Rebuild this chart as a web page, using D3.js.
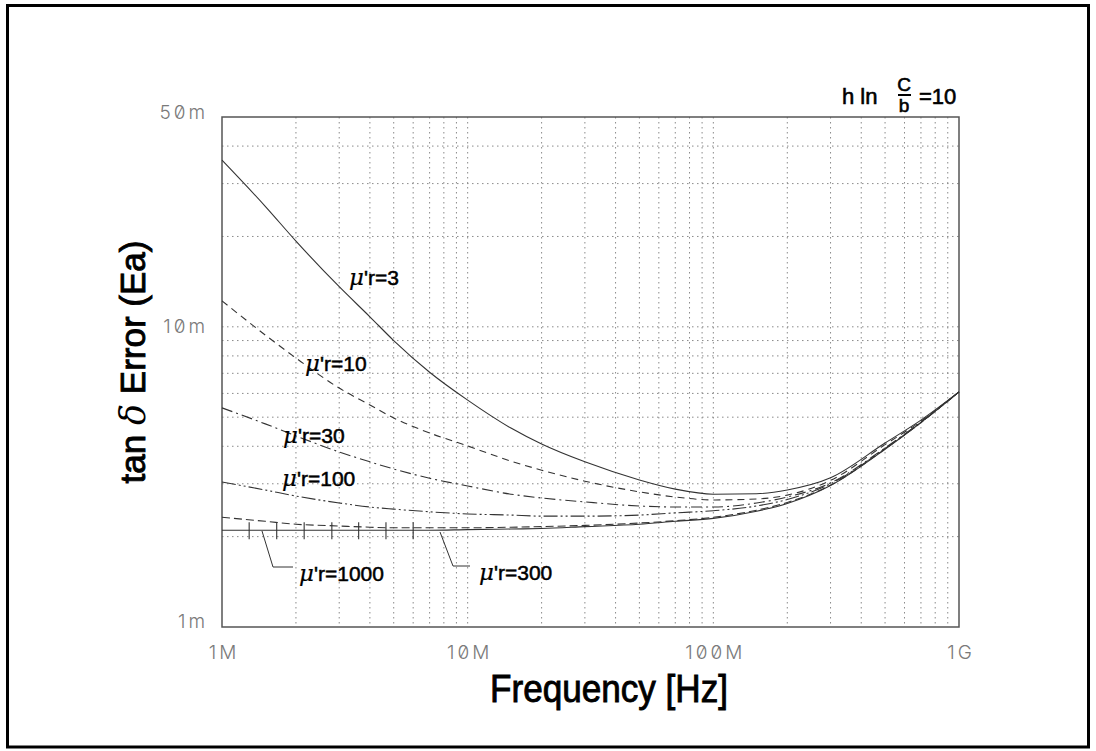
<!DOCTYPE html>
<html><head><meta charset="utf-8">
<script src="https://cdn.jsdelivr.net/npm/d3@7"></script>
<style>
html,body{margin:0;padding:0;background:#fff;}
svg{display:block;}
.tick-lbl{font-family:Inter,"DejaVu Sans",sans-serif;font-weight:300;fill:#7a7a7a;font-size:19px;letter-spacing:3px;font-feature-settings:"zero" 1;}
.clbl{font-family:"Liberation Sans",Arial,sans-serif;font-size:21px;fill:#000;stroke:#000;stroke-width:0.5;}
</style></head>
<body><svg id="c" width="1096" height="751"></svg>
<script>
// ---- data (frequency in MHz, error in units of 1e-3) ----
const freqsMHz = [1,1.5,2,3,4,5,7,10,15,20,30,50,70,100,150,200,300,500,700,1000];
const mu3    = [35.9,25.2,19.3,13.6,10.8,9.0,7.06,5.70,4.60,4.07,3.55,3.09,2.88,2.77,2.78,2.86,3.14,4.10,4.89,6.07];
const mu10   = [12.2,9.39,7.87,6.25,5.49,4.97,4.43,4.01,3.57,3.33,3.06,2.82,2.71,2.65,2.67,2.75,3.08,4.05,4.85,6.07];
const mu30   = [5.37,4.75,4.33,3.83,3.55,3.36,3.13,2.95,2.77,2.69,2.61,2.53,2.51,2.51,2.59,2.71,3.02,3.95,4.82,6.07];
const mu100  = [3.04,2.86,2.73,2.59,2.51,2.47,2.42,2.38,2.36,2.34,2.34,2.36,2.40,2.44,2.53,2.66,3.00,3.93,4.80,6.07];
const mu300  = [2.32,2.25,2.20,2.17,2.15,2.14,2.14,2.14,2.15,2.16,2.18,2.22,2.26,2.32,2.45,2.60,2.97,3.92,4.80,6.07];
const mu1000 = [2.10,2.10,2.10,2.10,2.10,2.10,2.10,2.11,2.12,2.13,2.16,2.20,2.25,2.30,2.43,2.58,2.96,3.91,4.80,6.07];
const tickMarksMHz = [1.29,1.67,2.16,2.8,3.6,4.65,6.0];   // cross-ticks drawn on the mu'r=1000 curve
const xTickVals = [1e6,1e7,1e8,1e9];
const xTickLabels = ["1M","10M","100M","1G"];
const yTickVals = [1e-3,1e-2,5e-2];
const yTickLabels = ["1m","10m","50m"];
const seriesNames = ["3","10","30","100","300","1000"];

const svg = d3.select("#c");
const L=222,R=959,T=117,B=627;
const x = d3.scaleLog().domain([1e6,1e9]).range([L,R]);
const y = d3.scaleLog().domain([1e-3,5e-2]).range([B,T]);

// outer frame
svg.append("rect").attr("x",7.5).attr("y",5.5).attr("width",1081).attr("height",741.5)
  .attr("fill","none").attr("stroke","#000").attr("stroke-width",3);

// grid
const gx=[], gy=[];
for (let d=1e6; d<1e9; d*=10) for (let k=1; k<=9; k++) if(!(d===1e6&&k===1)) gx.push(k*d);
for (let d=1e-3; d<5e-2; d*=10) for (let k=1; k<=9; k++){ const v=k*d; if(v>1e-3 && v<5e-2) gy.push(v); }
const grid = svg.append("g").attr("stroke","#8a8a8a").attr("stroke-width",1).attr("stroke-dasharray","1.5,3.5");
grid.selectAll("line.gx").data(gx).join("line").attr("class","gx")
  .attr("x1",d=>x(d)).attr("x2",d=>x(d)).attr("y1",T).attr("y2",B);
grid.selectAll("line.gy").data(gy).join("line").attr("class","gy")
  .attr("x1",L).attr("x2",R).attr("y1",d=>y(d)).attr("y2",d=>y(d));

// plot frame
svg.append("rect").attr("x",L).attr("y",T).attr("width",R-L).attr("height",B-T)
  .attr("fill","none").attr("stroke","#555").attr("stroke-width",1.5);

// axes labels via d3 axes
const xa = svg.append("g").attr("transform",`translate(0,${B})`)
  .call(d3.axisBottom(x).tickValues(xTickVals).tickSize(0).tickPadding(19).tickFormat((d,i)=>xTickLabels[i]));
xa.select(".domain").remove();
xa.selectAll("text").attr("class","tick-lbl").attr("text-anchor","middle").attr("dx","1.5");
const ya = svg.append("g").attr("transform",`translate(${L},0)`)
  .call(d3.axisLeft(y).tickValues(yTickVals).tickSize(0).tickPadding(14).tickFormat((d,i)=>yTickLabels[i]));
ya.select(".domain").remove();
ya.selectAll("text").attr("class","tick-lbl").attr("text-anchor","end");
ya.selectAll(".tick").filter(d=>d===5e-2).select("text").attr("dy","0.1em");
ya.selectAll(".tick").filter(d=>d===1e-3).select("text").attr("dy","0.05em");

// curves
const line = d3.line().x(d=>x(d[0])).y(d=>y(d[1])).curve(d3.curveMonotoneX);
const toPts = arr => freqsMHz.map((f,i)=>[f*1e6, arr[i]*1e-3]);
const styles = [
  {data:mu3,   dash:null},
  {data:mu10,  dash:"7,5"},
  {data:mu30,  dash:"11,4,2,4"},
  {data:mu100, dash:"14,3,2,3,2,3"},
  {data:mu300, dash:"8,4"},
  {data:mu1000,dash:null},
];
const cg = svg.append("g").attr("fill","none").attr("stroke","#333").attr("stroke-width",1.1);
cg.selectAll("path").data(styles).join("path")
  .attr("d",s=>line(toPts(s.data)))
  .attr("stroke-dasharray",s=>s.dash);

// tick marks on mu'r=1000 curve
const v1000 = f => {
  const lf=Math.log10(f);
  for(let i=0;i<freqsMHz.length-1;i++){const a=Math.log10(freqsMHz[i]),b=Math.log10(freqsMHz[i+1]);
    if(lf>=a&&lf<=b){const t=(lf-a)/(b-a);return Math.pow(10,Math.log10(mu1000[i])*(1-t)+Math.log10(mu1000[i+1])*t);}}
  return mu1000[0];
};
cg.selectAll("line.tm").data(tickMarksMHz).join("line").attr("class","tm")
  .attr("x1",d=>x(d*1e6)).attr("x2",d=>x(d*1e6))
  .attr("y1",d=>y(v1000(d)*1e-3)-8).attr("y2",d=>y(v1000(d)*1e-3)+9);

// curve labels
function muLabel(xp,yp,val){
  const t=svg.append("text").attr("class","clbl").attr("x",xp).attr("y",yp);
  t.append("tspan").attr("font-style","italic").attr("font-family","'DejaVu Serif',serif").attr("font-size","23px").attr("stroke-width",0.2).text("μ");
  t.append("tspan").text("'r="+val);
}
muLabel(349,285,seriesNames[0]);
muLabel(305,371,seriesNames[1]);
muLabel(283,443,seriesNames[2]);
muLabel(282,486,seriesNames[3]);
muLabel(479,580,seriesNames[4]);
muLabel(299,581,seriesNames[5]);

// leader lines
svg.append("path").attr("d","M262,531 L273,567 L293,567").attr("fill","none").attr("stroke","#333").attr("stroke-width",1);
svg.append("path").attr("d","M440,532 L453,566 L470,566").attr("fill","none").attr("stroke","#333").attr("stroke-width",1);

// axis titles
svg.append("text").attr("x",609).attr("y",702).attr("text-anchor","middle")
  .attr("font-family","'Liberation Sans',Arial,sans-serif").attr("font-size","38px")
  .attr("stroke","#000").attr("stroke-width",0.9)
  .attr("textLength",238).attr("lengthAdjust","spacingAndGlyphs").text("Frequency [Hz]");
const yt = svg.append("text").attr("transform","translate(145,362) rotate(-90)").attr("text-anchor","middle")
  .attr("font-family","'Liberation Sans',Arial,sans-serif").attr("font-size","35px")
  .attr("stroke","#000").attr("stroke-width",0.9);
yt.append("tspan").text("tan ");
yt.append("tspan").attr("stroke-width",0).attr("font-family","'DejaVu Serif',serif").attr("font-style","italic").text("δ");
yt.append("tspan").text(" Error (Ea)");

// top-right annotation
const ann = svg.append("g").attr("font-family","'Liberation Sans',Arial,sans-serif").attr("font-size","22px")
  .attr("stroke","#000").attr("stroke-width",0.6);
ann.append("text").attr("x",842).attr("y",104).text("h  ln");
ann.append("text").attr("x",904).attr("y",91).attr("text-anchor","middle").attr("font-size","19px").text("C");
ann.append("line").attr("x1",898).attr("x2",911).attr("y1",95).attr("y2",95).attr("stroke","#000").attr("stroke-width",2);
ann.append("text").attr("x",904).attr("y",112).attr("text-anchor","middle").attr("font-size","19px").text("b");
ann.append("text").attr("x",919).attr("y",104).text("=10");
</script></body></html>
